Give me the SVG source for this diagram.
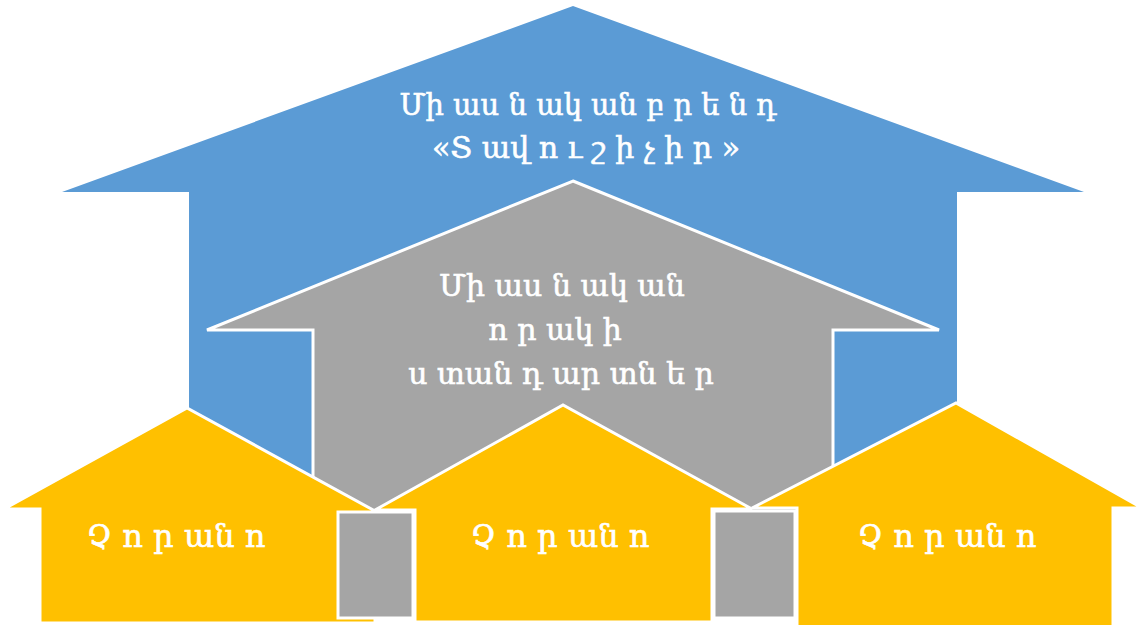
<svg xmlns="http://www.w3.org/2000/svg" width="1142" height="625" viewBox="0 0 1142 625">
<style>
.t{font-family:"DejaVu Serif","Noto Sans",serif;font-size:29px;fill:#ffffff;stroke:#ffffff;stroke-width:0.6;text-anchor:middle}
.m{font-size:30px}
.l{font-size:32px}
.y{fill:#ffc000;stroke:#ffffff;stroke-width:3;stroke-linejoin:miter}
.g{fill:#a5a5a5;stroke:#ffffff;stroke-width:3}
</style>
<rect width="1142" height="625" fill="#ffffff"/>
<g id="brand">
<polygon points="573,6 1084,192 957,192 957,520 189,520 189,192 62,192" fill="#5b9bd5"/>
<text class="t" x="588" y="115">Մի աս ն ակ ան  բ ր ե ն դ</text>
<text class="t m" x="586" y="158">«Տ ավ ո ւ շ ի չ ի ր »</text>
</g>
<g id="standards">
<polygon class="g" points="573,181 939,330 833,330 833,515 313,515 313,330 207,330"/>
<text class="t m" x="562" y="296">Մի աս ն ակ ան</text>
<text class="t m" x="555" y="340">ո ր ակ ի</text>
<text class="t m" x="561" y="384">ս տան դ ար տն ե ր</text>
</g>
<g id="dryer1">
<polygon class="y" points="4,509 187,408 375,511 375,623 40,623 40,509"/>
<text class="t l" x="176" y="547">Չ ո ր ան ո</text>
</g>
<g id="dryer2">
<polygon class="y" points="375,510 563,405 752,509 712,509 712,622 415,622 415,510"/>
<text class="t l" x="560" y="547">Չ ո ր ան ո</text>
</g>
<g id="dryer3">
<polygon class="y" points="752,508 956,403 1142,508 1113,508 1113,627 797,627 797,508"/>
<text class="t l" x="947" y="547">Չ ո ր ան ո</text>
</g>
<g id="connectors">
<rect class="g" x="338" y="512" width="75" height="106"/>
<rect class="g" x="714" y="511" width="81" height="107"/>
</g>
</svg>
